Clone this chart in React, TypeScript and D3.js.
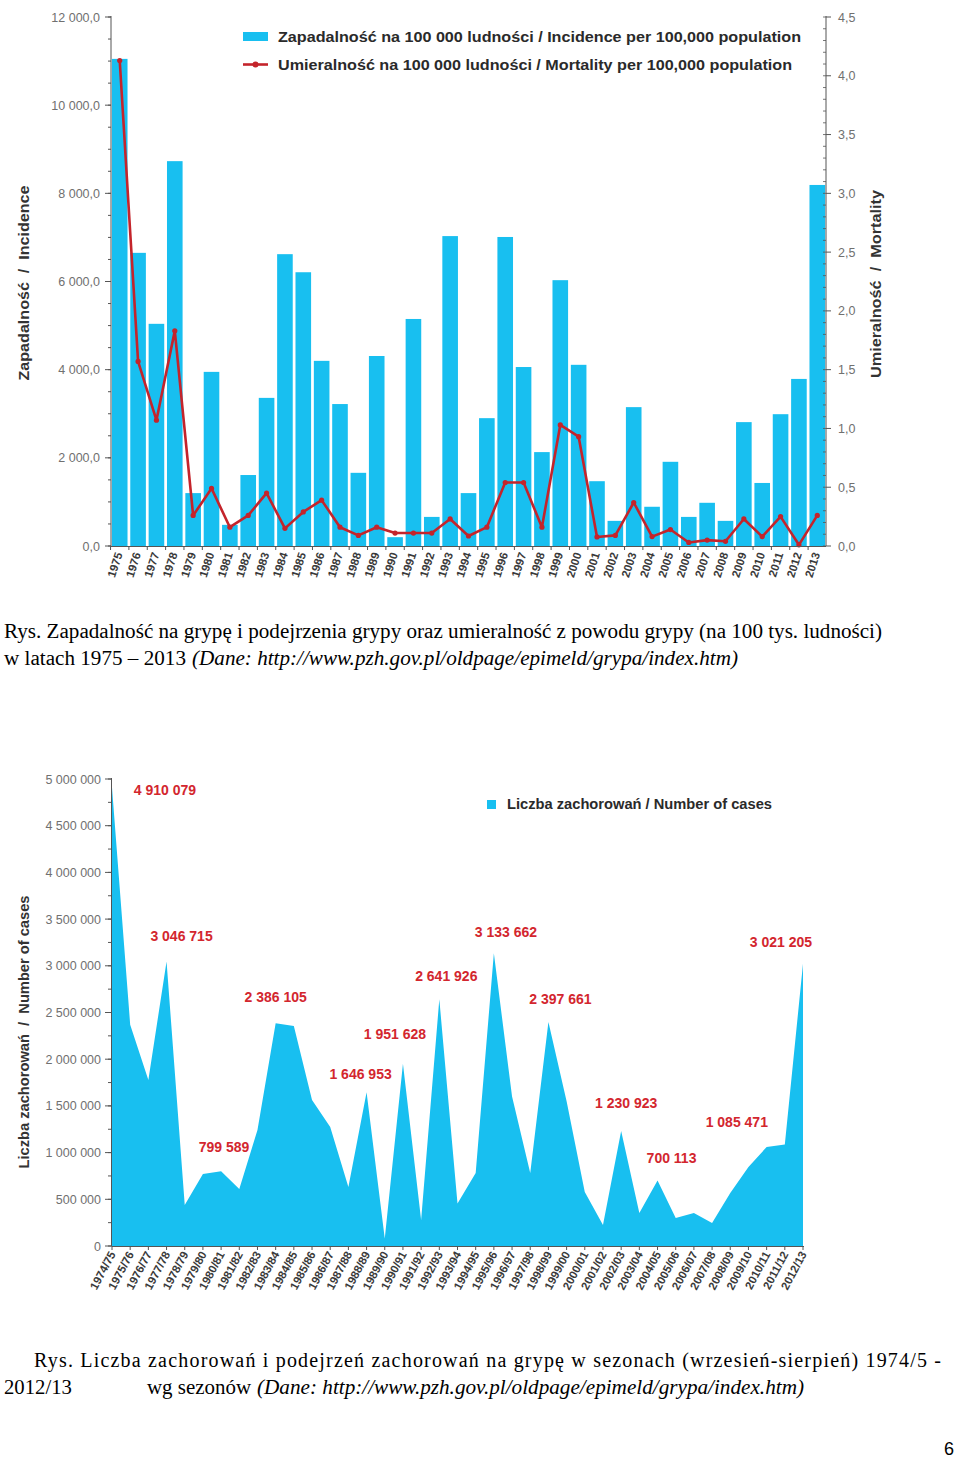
import React from "react";
import * as d3 from "d3";

const years = ["1975","1976","1977","1978","1979","1980","1981","1982","1983","1984","1985","1986","1987","1988","1989","1990","1991","1992","1993","1994","1995","1996","1997","1998","1999","2000","2001","2002","2003","2004","2005","2006","2007","2008","2009","2010","2011","2012","2013"];
const incidence = [11050,6650,5040,8730,1200,3950,480,1610,3360,6620,6210,4200,3220,1660,4310,200,5150,660,7030,1200,2900,7010,4060,2130,6030,4110,1470,570,3150,890,1910,660,980,570,2810,1430,2990,3790,8190];
const mortality = [4.13,1.57,1.07,1.83,0.26,0.49,0.16,0.26,0.45,0.15,0.29,0.39,0.16,0.09,0.16,0.11,0.11,0.11,0.23,0.085,0.16,0.54,0.54,0.16,1.03,0.93,0.077,0.09,0.37,0.08,0.14,0.03,0.05,0.04,0.23,0.08,0.25,0.01,0.26];
const incTicks = [0,2000,4000,6000,8000,10000,12000];
const incTickLabels = ["0,0","2 000,0","4 000,0","6 000,0","8 000,0","10 000,0","12 000,0"];
const mortTicks = [0,0.5,1,1.5,2,2.5,3,3.5,4,4.5];
const mortTickLabels = ["0,0","0,5","1,0","1,5","2,0","2,5","3,0","3,5","4,0","4,5"];

const seasons = ["1974/75","1975/76","1976/77","1977/78","1978/79","1979/80","1980/81","1981/82","1982/83","1983/84","1984/85","1985/86","1986/87","1987/88","1988/89","1989/90","1990/91","1991/92","1992/93","1993/94","1994/95","1995/96","1996/97","1997/98","1998/99","1999/00","2000/01","2001/02","2002/03","2003/04","2004/05","2005/06","2006/07","2007/08","2008/09","2009/10","2010/11","2011/12","2012/13"];
const cases = [4910079,2370000,1777000,3046715,439000,771000,799589,610000,1242000,2386105,2355000,1563000,1274000,632000,1646953,80000,1951628,278000,2641926,455000,782000,3133662,1600000,782000,2397661,1550000,578000,225000,1230923,353000,700113,300000,353000,246000,567000,846000,1060000,1085471,3021205];
const caseTicks = [0,500000,1000000,1500000,2000000,2500000,3000000,3500000,4000000,4500000,5000000];
const caseTickLabels = ["0","500 000","1 000 000","1 500 000","2 000 000","2 500 000","3 000 000","3 500 000","4 000 000","4 500 000","5 000 000"];
const labeledIdx = [0,3,6,9,14,16,18,21,24,28,30,37,38];
const labelDx = [53,15,3,0,-6,-8,7,12,12,5,14,-48,-22];
const labelDy = [3,-25,-24,-26,-18,-30,-23,-21,-23,-28,-23,-23,-22];

const CYAN = "#18bff0";
const RED = "#c4242b";
const LABEL_RED = "#d3262e";
const AXIS = "#555";
const TICKTXT = "#707070";
const SANS = "'Liberation Sans', Arial, sans-serif";
const SERIF = "'Liberation Serif', 'Times New Roman', serif";

const fmt = (v: number) => d3.format(",")(v).replace(/,/g, " ");

function TopChart() {
  const x = d3.scaleBand<string>().domain(years).range([111, 826]).paddingInner(0.15).paddingOuter(0.05);
  const y = d3.scaleLinear().domain([0, 12000]).range([546, 17]);
  const y2 = d3.scaleLinear().domain([0, 4.5]).range([546, 17]);
  const line = d3.line<number>().x((_, i) => (x(years[i]) as number) + x.bandwidth() / 2).y((d) => y2(d));
  const minorLeft = d3.range(0, 12001, 500);
  const minorRight = d3.range(0, 4.501, 0.1);
  const step = x.step();
  return (
    <g>
      {incidence.map((v, i) => (
        <rect key={i} x={x(years[i])} y={y(v)} width={x.bandwidth()} height={y(0) - y(v)} fill={CYAN} />
      ))}
      <path d={line(mortality) || ""} fill="none" stroke={RED} strokeWidth={2.6} strokeLinejoin="round" />
      {mortality.map((v, i) => (
        <circle key={i} cx={(x(years[i]) as number) + x.bandwidth() / 2} cy={y2(v)} r={2.6} fill={RED} />
      ))}
      {/* left axis */}
      <line x1={111} x2={111} y1={16} y2={546} stroke={AXIS} strokeWidth={1} />
      {minorLeft.map((t) => (
        <line key={t} x1={108} x2={111} y1={y(t)} y2={y(t)} stroke={AXIS} strokeWidth={1} />
      ))}
      {incTicks.map((t, i) => (
        <g key={t}>
          <line x1={105} x2={111} y1={y(t)} y2={y(t)} stroke={AXIS} strokeWidth={1} />
          <text x={100} y={y(t) + 4.5} textAnchor="end" fontSize={12.5} fill={TICKTXT} fontFamily={SANS}>{incTickLabels[i]}</text>
        </g>
      ))}
      {/* right axis */}
      <line x1={826} x2={826} y1={16} y2={546} stroke={AXIS} strokeWidth={1} />
      {minorRight.map((t, i) => (
        <line key={i} x1={823} x2={826} y1={y2(t)} y2={y2(t)} stroke={AXIS} strokeWidth={0.8} />
      ))}
      {mortTicks.map((t, i) => (
        <g key={t}>
          <line x1={826} x2={831} y1={y2(t)} y2={y2(t)} stroke={AXIS} strokeWidth={1} />
          <text x={838} y={y2(t) + 4.5} textAnchor="start" fontSize={12.5} fill={TICKTXT} fontFamily={SANS}>{mortTickLabels[i]}</text>
        </g>
      ))}
      {/* x axis */}
      <line x1={111} x2={826} y1={546.5} y2={546.5} stroke={AXIS} strokeWidth={1} />
      {years.map((yr, i) => (
        <g key={yr}>
          <line x1={111 + x.paddingOuter() * step + i * step - (step - x.bandwidth()) / 2} x2={111 + x.paddingOuter() * step + i * step - (step - x.bandwidth()) / 2} y1={546} y2={550} stroke={AXIS} />
          <text
            transform={`translate(${(x(yr) as number) + x.bandwidth() / 2 + 3},${554}) rotate(-72)`}
            textAnchor="end"
            fontSize={11.5}
            fontWeight="bold"
            fill="#3a3a3a"
            fontFamily={SANS}
          >{yr}</text>
        </g>
      ))}
      {/* titles */}
      <text transform="translate(29,283) rotate(-90)" textAnchor="middle" fontSize={15} fontWeight="bold" fill="#333" fontFamily={SANS} xmlSpace="preserve" textLength={195} lengthAdjust="spacingAndGlyphs">Zapadalność  /  Incidence</text>
      <text transform="translate(881,284) rotate(-90)" textAnchor="middle" fontSize={15} fontWeight="bold" fill="#333" fontFamily={SANS} xmlSpace="preserve" textLength={188} lengthAdjust="spacingAndGlyphs">Umieralność  /  Mortality</text>
      {/* legend */}
      <rect x={243} y={32} width={25} height={9} fill={CYAN} />
      <text x={278} y={42} fontSize={14} fontWeight="bold" fill="#2a2a2a" fontFamily={SANS} textLength={523} lengthAdjust="spacingAndGlyphs">Zapadalność na 100 000 ludności / Incidence per 100,000 population</text>
      <line x1={243} x2={268} y1={64.5} y2={64.5} stroke={RED} strokeWidth={2.6} />
      <circle cx={255.5} cy={64.5} r={3} fill={RED} />
      <text x={278} y={70} fontSize={14} fontWeight="bold" fill="#2a2a2a" fontFamily={SANS} textLength={514} lengthAdjust="spacingAndGlyphs">Umieralność na 100 000 ludności / Mortality per 100,000 population</text>
    </g>
  );
}

function BottomChart() {
  const x = d3.scalePoint<string>().domain(seasons).range([112, 803]);
  const y = d3.scaleLinear().domain([0, 5000000]).range([1246, 779]);
  const area = d3.area<number>().x((_, i) => x(seasons[i]) as number).y0(y(0)).y1((d) => y(d));
  const minor = d3.range(0, 5000001, 250000);
  return (
    <g>
      <path d={area(cases) || ""} fill={CYAN} />
      <line x1={111.5} x2={111.5} y1={778} y2={1246} stroke={AXIS} />
      {minor.map((t) => (
        <line key={t} x1={108} x2={111.5} y1={y(t)} y2={y(t)} stroke={AXIS} />
      ))}
      {caseTicks.map((t, i) => (
        <g key={t}>
          <line x1={105} x2={111.5} y1={y(t)} y2={y(t)} stroke={AXIS} />
          <text x={101} y={y(t) + 4.5} textAnchor="end" fontSize={12.5} fill={TICKTXT} fontFamily={SANS}>{caseTickLabels[i]}</text>
        </g>
      ))}
      <line x1={111.5} x2={804} y1={1246.5} y2={1246.5} stroke={AXIS} />
      {seasons.map((s) => (
        <g key={s}>
          <line x1={x(s)} x2={x(s)} y1={1246} y2={1250} stroke={AXIS} />
          <text
            transform={`translate(${(x(s) as number) + 4},${1254}) rotate(-62)`}
            textAnchor="end"
            fontSize={11.5}
            fontWeight="bold"
            fill="#3a3a3a"
            fontFamily={SANS}
          >{s}</text>
        </g>
      ))}
      {labeledIdx.map((idx, k) => (
        <text
          key={idx}
          x={(x(seasons[idx]) as number) + labelDx[k]}
          y={y(cases[idx]) + labelDy[k] + 5}
          textAnchor="middle"
          fontSize={14}
          fontWeight="bold"
          fill={LABEL_RED}
          fontFamily={SANS}
        >{fmt(cases[idx])}</text>
      ))}
      <text transform="translate(29,1032) rotate(-90)" textAnchor="middle" fontSize={15} fontWeight="bold" fill="#333" fontFamily={SANS} xmlSpace="preserve" textLength={273} lengthAdjust="spacingAndGlyphs">Liczba zachorowań  /  Number of cases</text>
      <rect x={487} y={800} width={9} height={9} fill={CYAN} />
      <text x={507} y={809} fontSize={14} fontWeight="bold" fill="#2a2a2a" fontFamily={SANS} textLength={265} lengthAdjust="spacingAndGlyphs">Liczba zachorowań / Number of cases</text>
    </g>
  );
}

export default function App() {
  return (
    <svg width={960} height={1463} style={{ position: "absolute", left: 0, top: 0, background: "#fff" }}>
      <rect width={960} height={1463} fill="#fff" />
      <TopChart />
      <text x={4} y={638} fontSize={20} fill="#000" fontFamily={SERIF} textLength={878} lengthAdjust="spacingAndGlyphs">Rys. Zapadalność na grypę i podejrzenia grypy oraz umieralność z powodu grypy (na 100 tys. ludności)</text>
      <text x={4} y={665} fontSize={20} fill="#000" fontFamily={SERIF} textLength={182} lengthAdjust="spacingAndGlyphs">w latach 1975 – 2013</text>
      <text x={192} y={665} fontSize={20} fontStyle="italic" fill="#000" fontFamily={SERIF} textLength={546} lengthAdjust="spacingAndGlyphs">(Dane: http://www.pzh.gov.pl/oldpage/epimeld/grypa/index.htm)</text>
      <BottomChart />
      <text x={34} y={1367} fontSize={20} fill="#000" fontFamily={SERIF} textLength={907} lengthAdjust="spacing">Rys. Liczba zachorowań i podejrzeń zachorowań na grypę w sezonach (wrzesień-sierpień) 1974/5 -</text>
      <text x={4} y={1394} fontSize={20} fill="#000" fontFamily={SERIF} textLength={68} lengthAdjust="spacingAndGlyphs">2012/13</text>
      <text x={147} y={1394} fontSize={20} fill="#000" fontFamily={SERIF} textLength={104} lengthAdjust="spacingAndGlyphs">wg sezonów</text>
      <text x={257} y={1394} fontSize={20} fontStyle="italic" fill="#000" fontFamily={SERIF} textLength={547} lengthAdjust="spacingAndGlyphs">(Dane: http://www.pzh.gov.pl/oldpage/epimeld/grypa/index.htm)</text>
      <text x={954} y={1455} textAnchor="end" fontSize={18} fill="#000" fontFamily="'Liberation Sans', sans-serif">6</text>
    </svg>
  );
}
